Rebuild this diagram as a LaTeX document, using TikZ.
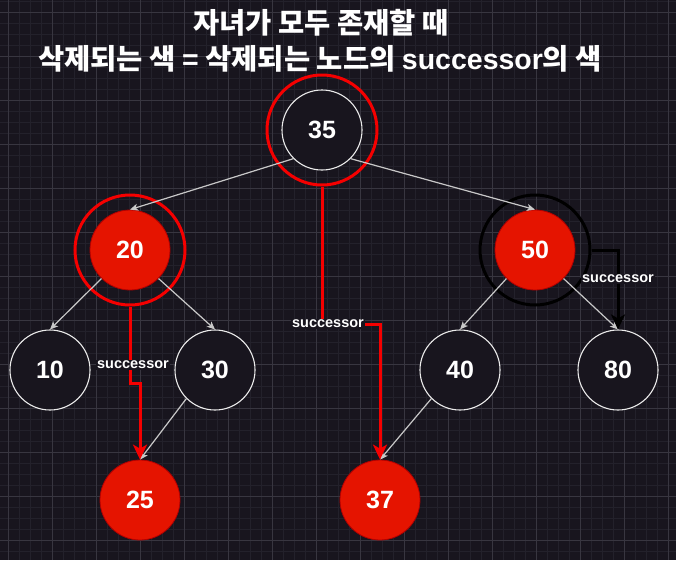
\documentclass[tikz,border=0pt]{standalone}
\usepackage{fontspec}
\setmainfont{Liberation Sans}
\newfontfamily\kr{Noto Sans CJK KR}
\usetikzlibrary{arrows.meta}
\definecolor{bg}{RGB}{24,21,30}
\definecolor{gridminor}{RGB}{35,33,43}
\definecolor{gridmajor}{RGB}{56,54,64}
\definecolor{nodered}{RGB}{229,20,0}
\definecolor{nodeborder}{RGB}{178,0,0}
\definecolor{ringred}{RGB}{245,0,0}
\definecolor{edgegray}{RGB}{200,200,200}
\tikzset{
  wnode/.style={circle, minimum size=80pt, inner sep=0pt, draw=white!92!black, line width=1.1pt, fill=bg, text=white, font=\fontsize{25}{28}\selectfont\bfseries},
  rnode/.style={circle, minimum size=80pt, inner sep=0pt, draw=nodeborder, line width=0.8pt, fill=nodered, text=white, font=\fontsize{25}{28}\selectfont\bfseries},
  ring/.style={circle, minimum size=110pt, inner sep=0pt, draw=#1, line width=3pt},
  tree/.style={draw=edgegray, line width=1.2pt, -{Stealth[length=8pt,width=7pt,inset=2pt]}},
  succ/.style={draw=#1, line width=3pt, -{Stealth[length=15pt,width=14pt,inset=4pt]}},
  lab/.style={fill=bg, text=white, inner sep=1.5pt, font=\fontsize{14.5}{16}\selectfont\bfseries},
  titletxt/.style={text=white, inner sep=0pt, font=\fontsize{28.5}{31}\selectfont\bfseries}
}
\begin{document}
\begin{tikzpicture}[x=1pt,y=-1pt]
\useasboundingbox (0,0) rectangle (676,560);
\fill[bg] (0,0) rectangle (676,560);
\begin{scope}
\clip (0,0) rectangle (676,560);
\foreach \i in {0,...,62} {\draw[gridminor, line width=0.8pt] ({-3+11*\i},0) -- ({-3+11*\i},560);}
\foreach \i in {0,...,51} {\draw[gridminor, line width=0.8pt] (0,{1+11*\i}) -- (676,{1+11*\i});}
\foreach \i in {0,...,15} {\draw[gridmajor, line width=1pt] ({8+44*\i},0) -- ({8+44*\i},560);}
\foreach \i in {0,...,12} {\draw[gridmajor, line width=1pt] (0,{12+44*\i}) -- (676,{12+44*\i});}
\end{scope}

% title
\node[titletxt] (t1) at (321,23) {\kr 자녀가 모두 존재할 때};
\node[titletxt] (t2) at (320,59) {\kr 삭제되는 색 {\rmfamily =} 삭제되는 노드의 {\rmfamily successor}의 색};

% nodes
\node[wnode] (n35) at (322,130) {35};
\node[rnode] (n20) at (130,250) {20};
\node[rnode] (n50) at (535,250) {50};
\node[wnode] (n10) at (50,370) {10};
\node[wnode] (n30) at (215,370) {30};
\node[wnode] (n40) at (460,370) {40};
\node[wnode] (n80) at (618,370) {80};
\node[rnode] (n25) at (140,500) {25};
\node[rnode] (n37) at (380,500) {37};

% rings
\node[ring=ringred] (r35) at (322,130) {};
\node[ring=ringred] (r20) at (130,250) {};
\node[ring=black] (r50) at (535,250) {};

% tree edges
\draw[tree] (n35.225) -- (n20.north);
\draw[tree] (n35.-45) -- (n50.north);
\draw[tree] (n20.225) -- (n10.north);
\draw[tree] (n20.-45) -- (n30.north);
\draw[tree] (n50.225) -- (n40.north);
\draw[tree] (n50.-45) -- (n80.north);
\draw[tree] (n30.225) -- (n25.north);
\draw[tree] (n40.225) -- (n37.north);

% successor paths
\coordinate (c35) at (322,324);
\coordinate (c20) at (130,383);
\draw[succ=ringred] (r35.south) -- (c35) -| (n37.north);
\draw[succ=ringred] (r20.south) -- (c20) -| (n25.north);
\draw[succ=black] (r50.east) -| (n80.north);

% labels
\node[lab] (l35) at (328,324) {successor};
\node[lab] (l20) at (133,365) {successor};
\node[lab] (l50) at (618,279) {successor};
\end{tikzpicture}
\end{document}
